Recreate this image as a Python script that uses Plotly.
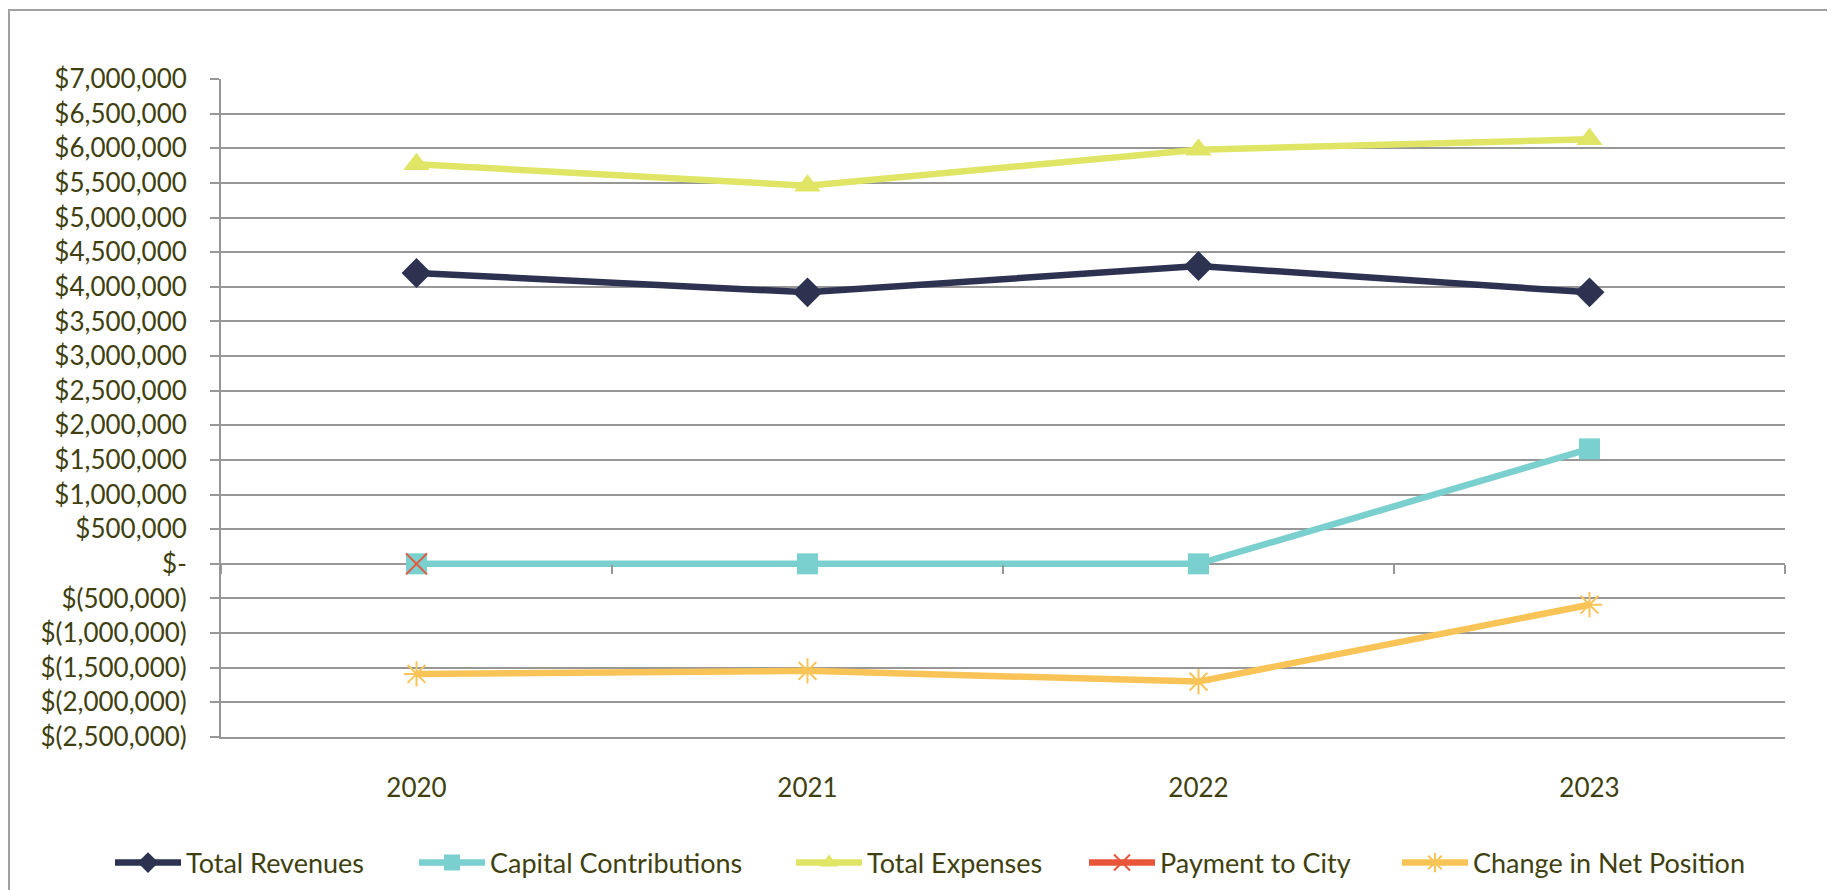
import plotly.graph_objects as go

years = ["2020", "2021", "2022", "2023"]
total_revenues = [4200000, 3920000, 4300000, 3920000]
capital_contributions = [0, 0, 0, 1660000]
total_expenses = [5770000, 5460000, 5980000, 6130000]
payment_to_city = [0, None, None, None]
change_in_net_position = [-1590000, -1545000, -1700000, -590000]

y_tickvals = [7000000, 6500000, 6000000, 5500000, 5000000, 4500000, 4000000, 3500000,
              3000000, 2500000, 2000000, 1500000, 1000000, 500000, 0, -500000,
              -1000000, -1500000, -2000000, -2500000]
y_ticktext = ["$7,000,000", "$6,500,000", "$6,000,000", "$5,500,000", "$5,000,000",
              "$4,500,000", "$4,000,000", "$3,500,000", "$3,000,000", "$2,500,000",
              "$2,000,000", "$1,500,000", "$1,000,000", "$500,000", "$-",
              "$(500,000)", "$(1,000,000)", "$(1,500,000)", "$(2,000,000)", "$(2,500,000)"]

TEXT = "#3F3F10"
GRID = "#979797"
FONT = "Lato"

W, H = 1835, 890
OFF = 8  # page body margin offset
L, R, T, B = 221 - OFF, 50 + OFF, 79 - OFF, 153 + OFF
PW, PH = W - L - R, H - T - B

series = [
    ("Total Revenues", total_revenues, "#2D3250", dict(symbol="diamond", size=23)),
    ("Capital Contributions", capital_contributions, "#7ACFCF", dict(symbol="square", size=21)),
    ("Total Expenses", total_expenses, "#E0E565", dict(symbol="triangle-up", size=23)),
    ("Payment to City", payment_to_city, "#E9553A",
     dict(symbol="x-thin-open", size=21, line=dict(color="#E9553A", width=2))),
    ("Change in Net Position", change_in_net_position, "#F9C457",
     dict(symbol="asterisk-open", size=21, line=dict(color="#F9C457", width=2))),
]
legend_ids = ["legend", "legend2", "legend3", "legend4", "legend5"]
legend_x_page = [114, 418, 795, 1088, 1401]

fig = go.Figure()
for (name, vals, color, mk), lid in zip(series, legend_ids):
    fig.add_trace(go.Scatter(x=years, y=vals, name=name, mode="lines+markers",
                             line=dict(color=color, width=6.5),
                             marker=dict(color=color, **mk), legend=lid))
# helper trace for the category axis ticks along zero
fig.add_trace(go.Scatter(x=years, y=[None] * 4, xaxis="x2", showlegend=False,
                         hoverinfo="skip", mode="lines"))

zero_pos = (0 - y_tickvals[-1]) / (y_tickvals[0] - y_tickvals[-1])

legends = {}
for lid, xp in zip(legend_ids, legend_x_page):
    legends[lid] = dict(orientation="h", xref="container", yref="container",
                        x=(xp - OFF - 4) / W, xanchor="left",
                        y=1 - (863 - OFF) / H, yanchor="middle",
                        font=dict(family=FONT, size=27, color=TEXT),
                        itemwidth=66, bgcolor="rgba(0,0,0,0)", borderwidth=0)

fig.update_layout(
    width=W, height=H,
    margin=dict(l=L, r=R, t=T, b=B),
    paper_bgcolor="white", plot_bgcolor="white",
    font=dict(family=FONT, size=26, color=TEXT),
    showlegend=True,
    xaxis=dict(type="category", range=[-0.5, 3.5], showgrid=False, showline=True,
               linecolor=GRID, linewidth=2, automargin=False,
               zeroline=False, ticks="", tickfont=dict(family=FONT, size=26, color=TEXT),
               ticklabelstandoff=27),
    xaxis2=dict(type="category", overlaying="x", anchor="free", position=zero_pos,
                range=[-0.5, 3.5], showgrid=False, showline=False, zeroline=False,
                ticks="outside", ticklen=9, tickwidth=1.5, tickcolor=GRID,
                tickson="boundaries", showticklabels=False, automargin=False),
    yaxis=dict(range=[y_tickvals[-1], y_tickvals[0]], tickvals=y_tickvals, ticktext=y_ticktext,
               showgrid=True, gridcolor=GRID, gridwidth=2, zeroline=True, zerolinecolor=GRID,
               zerolinewidth=2, showline=True, linecolor=GRID, linewidth=2,
               ticks="outside", ticklen=9, tickwidth=2, tickcolor=GRID, automargin=False,
               tickfont=dict(family=FONT, size=26, color=TEXT), ticklabelstandoff=18),
    shapes=[dict(type="rect", xref="paper", yref="paper",
                 x0=(1 - L) / PW, x1=(W + 10 - L) / PW,
                 y0=(T + PH - (H + 10)) / PH, y1=(T + PH - 2) / PH,
                 line=dict(color="#A0A0A0", width=2), fillcolor="rgba(0,0,0,0)", layer="below")],
    **legends,
)

fig.write_html("out.html")
